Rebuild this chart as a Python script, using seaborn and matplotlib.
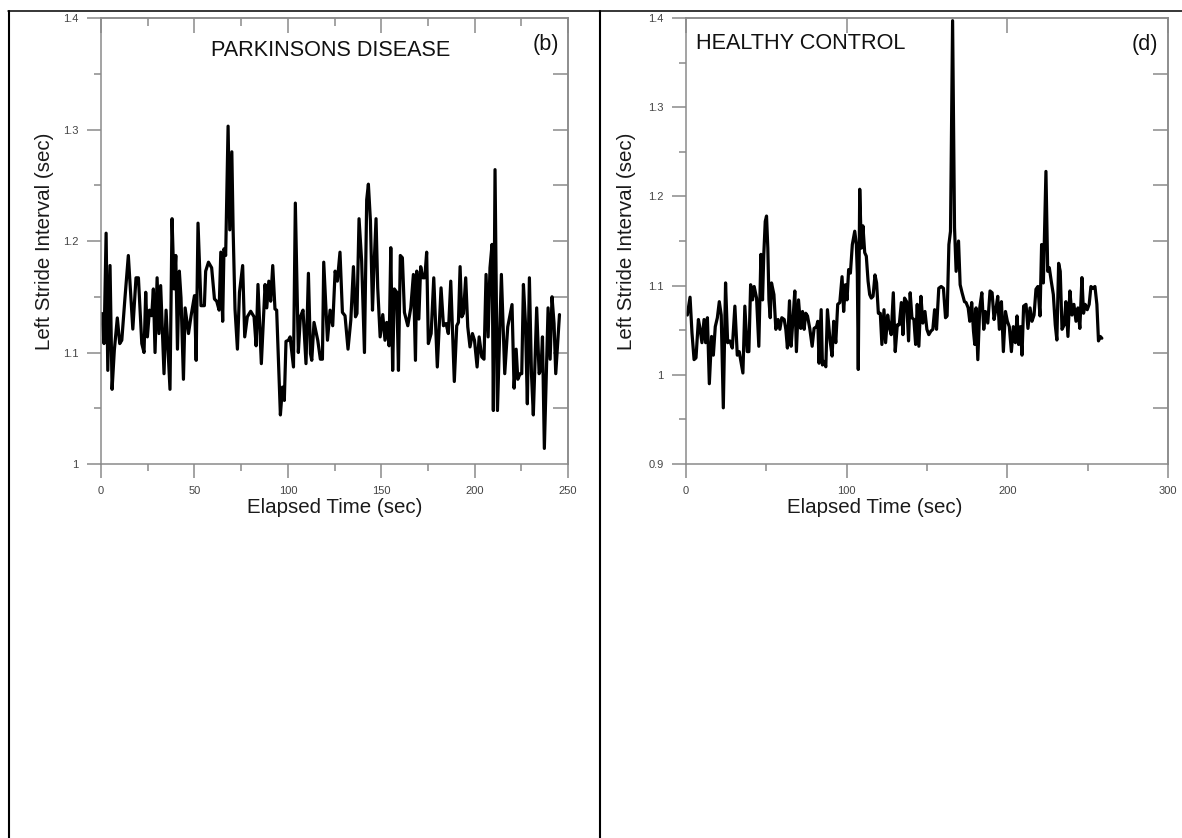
import pandas as pd
import matplotlib.pyplot as plt
import seaborn as sns

from matplotlib.lines import Line2D
from matplotlib.ticker import MultipleLocator, FixedLocator, FuncFormatter

# Parkinsons disease subject, left stride interval
pd_time = [
    0.4, 1.6, 2.7, 3.6, 4.8, 5.9, 7.1, 8.7, 10.0, 11.1,
    12.8, 14.6, 17.0, 18.7, 20.0, 21.8, 23.0, 23.9, 24.8, 25.9,
    27.1, 28.0, 28.9, 30.0, 31.0, 31.9, 33.7, 34.8, 36.9, 38.0,
    39.1, 40.0, 40.9, 41.9, 42.8, 44.1, 45.0, 46.8, 48.2, 50.0,
    50.9, 51.9, 53.5, 55.3, 56.0, 57.5, 59.2, 60.7, 61.9, 63.2,
    64.1, 65.1, 65.8, 66.7, 68.0, 68.9, 70.0, 70.7, 71.7, 73.0,
    74.1, 75.8, 76.9, 78.3, 80.1, 81.9, 83.0, 84.0, 85.8, 87.8,
    88.7, 89.8, 90.8, 91.9, 93.1, 94.0, 96.0, 97.1, 98.1, 99.0,
    100.3, 101.2, 103.0, 104.0, 105.6, 106.7, 108.1, 109.7, 111.0, 112.1,
    112.8, 114.0, 116.0, 117.4, 118.5, 119.2, 121.2,
    122.6, 124.0, 125.3, 126.5, 127.9, 129.2, 130.6, 132.2, 133.7, 135.1,
    136.2, 137.0, 138.1, 139.5, 141.0, 142.2, 143.1, 144.2, 145.3, 146.1,
    147.2, 148.1, 149.4, 150.8, 152.0, 152.9, 154.2, 155.1, 156.1, 157.0,
    158.3, 159.2, 160.2, 161.3, 162.4, 164.2, 165.8, 167.2, 168.3, 169.0,
    170.1, 171.1, 172.2, 173.3, 174.3, 175.2, 176.7, 178.1, 180.0, 182.0,
    183.3, 184.7, 185.9, 187.2, 189.1, 190.4, 191.3, 192.2, 193.1, 194.0,
    195.2, 196.3, 197.5, 198.8, 199.9, 201.3, 202.4, 203.8, 205.0, 206.1,
    207.2, 208.2, 209.3, 210.0, 210.9, 212.2, 214.3, 216.1, 217.7, 220.0,
    221.1, 222.2, 223.1, 224.3, 225.2, 226.1, 227.2, 228.2, 229.3, 230.4,
    231.4, 233.2, 234.5, 235.5, 236.3, 237.3, 239.3, 240.4, 241.4, 242.5,
    243.4, 245.4,
]
pd_stride = [
    1.135, 1.108, 1.207, 1.084, 1.178, 1.067, 1.102, 1.131, 1.108, 1.111,
    1.149, 1.187, 1.121, 1.167, 1.167, 1.108, 1.100, 1.154, 1.114, 1.138,
    1.133, 1.157, 1.100, 1.167, 1.117, 1.160, 1.081, 1.138, 1.067, 1.220,
    1.157, 1.187, 1.103, 1.173, 1.149, 1.076, 1.140, 1.117, 1.133, 1.151,
    1.093, 1.216, 1.142, 1.142, 1.173, 1.181, 1.176, 1.148, 1.146, 1.138,
    1.190, 1.128, 1.193, 1.187, 1.303, 1.210, 1.280, 1.210, 1.139, 1.103,
    1.154, 1.178, 1.114, 1.132, 1.137, 1.132, 1.106, 1.161, 1.090, 1.161,
    1.140, 1.164, 1.146, 1.178, 1.139, 1.138, 1.044, 1.069, 1.057, 1.110,
    1.111, 1.114, 1.087, 1.234, 1.100, 1.132, 1.138, 1.090, 1.171, 1.099,
    1.093, 1.127, 1.111, 1.094, 1.094, 1.181, 1.111,
    1.138, 1.124, 1.173, 1.164, 1.190, 1.136, 1.133, 1.103, 1.129, 1.177,
    1.132, 1.135, 1.220, 1.182, 1.100, 1.237, 1.251, 1.218, 1.138, 1.176,
    1.220, 1.158, 1.114, 1.134, 1.111, 1.127, 1.106, 1.194, 1.084, 1.157,
    1.154, 1.084, 1.187, 1.185, 1.136, 1.124, 1.140, 1.170, 1.093, 1.173,
    1.130, 1.177, 1.167, 1.167, 1.190, 1.108, 1.117, 1.167, 1.087, 1.158,
    1.124, 1.126, 1.117, 1.164, 1.074, 1.124, 1.127, 1.177, 1.132, 1.135,
    1.167, 1.123, 1.105, 1.117, 1.111, 1.087, 1.114, 1.096, 1.094, 1.170,
    1.114, 1.176, 1.197, 1.048, 1.264, 1.048, 1.170, 1.081, 1.123, 1.143,
    1.068, 1.103, 1.076, 1.081, 1.081, 1.161, 1.126, 1.054, 1.167, 1.081,
    1.044, 1.140, 1.081, 1.085, 1.114, 1.014, 1.140, 1.094, 1.150, 1.126,
    1.081, 1.134,
]

# healthy control subject
hc_time = [
    0.8, 2.5, 3.7, 5.0, 6.2, 7.7, 8.7, 9.9, 11.2, 12.2,
    13.3, 14.5, 15.9, 17.0, 18.2, 19.5, 20.7, 21.9, 23.2, 24.6,
    25.9, 27.3, 28.8, 30.4, 31.9, 33.1, 35.4, 36.6, 38.1, 39.1,
    40.2, 41.4, 42.4, 43.9, 45.3, 46.6, 47.6, 48.4, 49.3, 50.1,
    50.9, 51.6, 52.4, 53.2, 54.7, 55.9, 57.3, 58.4, 59.6, 61.1,
    62.1, 63.1, 64.4, 65.4, 66.7, 67.7, 68.7, 70.0, 71.4, 72.5,
    73.5, 74.5, 75.6, 77.0, 78.5, 79.7, 81.2, 82.0, 82.8, 84.1,
    84.9, 85.9, 87.0, 88.0, 89.6, 90.9, 91.9, 93.2, 94.4, 95.7,
    97.1, 98.1, 99.2, 100.2, 101.2, 102.3, 103.5, 105.0, 106.0, 106.6,
    107.2, 108.1, 109.1, 110.1, 111.2, 112.2, 113.3, 114.3, 115.3, 116.4,
    117.6, 118.6, 119.7, 120.9, 121.9, 123.2, 124.2, 125.5, 126.7, 127.7,
    129.0, 130.2, 131.5, 132.7, 134.0, 135.0, 136.0, 137.3, 138.5, 139.5,
    140.6, 141.8, 142.9, 143.9, 144.9, 146.2, 147.4, 148.7, 149.9, 151.1,
    152.4, 153.6, 154.7, 155.9, 157.3, 158.8, 160.2, 161.5, 162.5, 163.6,
    164.6, 165.9, 167.1, 168.1, 169.6, 170.6, 171.8, 173.3, 174.3,
    175.6, 176.6, 177.8, 178.9, 179.7, 180.5, 181.6, 182.8, 184.1, 185.3,
    186.3, 187.8, 189.2, 190.5, 191.7, 193.0, 194.0, 195.0, 196.3, 197.5,
    198.8, 200.0, 201.2, 202.5, 203.7, 205.0, 206.0, 207.0, 208.1, 209.1,
    210.1, 211.6, 212.8, 214.1, 215.3, 216.6, 217.8, 219.0, 220.3, 221.3,
    222.4, 223.2, 224.0, 225.1, 226.1, 227.3, 228.6, 229.8, 230.8, 231.9,
    232.9, 234.0, 235.4, 236.4, 237.7, 238.9, 240.2, 241.4, 242.7, 243.9,
    245.1, 246.4, 247.4, 248.4, 249.7, 250.9, 252.0, 253.2, 254.5, 255.7,
    256.7, 257.8, 258.8,
]
hc_stride = [
    1.067, 1.087, 1.047, 1.017, 1.019, 1.062, 1.052, 1.036, 1.062, 1.036,
    1.064, 0.990, 1.043, 1.022, 1.054, 1.064, 1.082, 1.067, 0.963, 1.103,
    1.036, 1.038, 1.030, 1.077, 1.022, 1.026, 1.002, 1.077, 1.026, 1.026,
    1.101, 1.084, 1.099, 1.086, 1.032, 1.135, 1.084, 1.135, 1.172, 1.178,
    1.142, 1.084, 1.064, 1.103, 1.090, 1.051, 1.062, 1.051, 1.064, 1.062,
    1.051, 1.030, 1.083, 1.032, 1.066, 1.094, 1.026, 1.084, 1.052, 1.071,
    1.051, 1.069, 1.066, 1.052, 1.032, 1.052, 1.054, 1.060, 1.013, 1.073,
    1.011, 1.015, 1.009, 1.073, 1.039, 1.021, 1.060, 1.036, 1.079, 1.081,
    1.110, 1.071, 1.101, 1.084, 1.118, 1.114, 1.146, 1.161, 1.146, 1.114,
    1.006, 1.208, 1.142, 1.167, 1.137, 1.133, 1.105, 1.090, 1.086, 1.088,
    1.112, 1.103, 1.069, 1.069, 1.034, 1.073, 1.036, 1.067, 1.052, 1.045,
    1.092, 1.026, 1.056, 1.056, 1.081, 1.045, 1.086, 1.082, 1.038, 1.092,
    1.064, 1.062, 1.034, 1.079, 1.032, 1.088, 1.058, 1.071, 1.051, 1.045,
    1.049, 1.051, 1.073, 1.051, 1.097, 1.099, 1.097, 1.064, 1.066, 1.146,
    1.161, 1.397, 1.165, 1.116, 1.150, 1.101, 1.092, 1.082, 1.081,
    1.075, 1.060, 1.081, 1.049, 1.034, 1.075, 1.017, 1.075, 1.092, 1.051,
    1.071, 1.058, 1.094, 1.092, 1.062, 1.075, 1.088, 1.051, 1.082, 1.026,
    1.071, 1.060, 1.054, 1.026, 1.054, 1.036, 1.066, 1.034, 1.054, 1.022,
    1.077, 1.079, 1.052, 1.075, 1.060, 1.067, 1.096, 1.099, 1.066, 1.146,
    1.103, 1.168, 1.228, 1.116, 1.120, 1.105, 1.090, 1.056, 1.039, 1.125,
    1.116, 1.051, 1.056, 1.082, 1.043, 1.094, 1.067, 1.079, 1.060, 1.075,
    1.052, 1.109, 1.069, 1.079, 1.073, 1.079, 1.099, 1.097, 1.099, 1.079,
    1.038, 1.043, 1.041,
]

df_pd = pd.DataFrame({"time": pd_time, "stride": pd_stride})
df_hc = pd.DataFrame({"time": hc_time, "stride": hc_stride})

sns.set_theme(style="white")
plt.rcParams['font.family'] = ['Liberation Sans', 'DejaVu Sans']

AX_GRAY = '#8a8a8a'
LBL_GRAY = '#444444'

fig = plt.figure(figsize=(11.82, 8.38), dpi=100)

ax1 = fig.add_axes([0.0855, 0.4463, 0.3951, 0.5322])
ax2 = fig.add_axes([0.5804, 0.4463, 0.4078, 0.5322])

sns.lineplot(data=df_pd, x="time", y="stride", ax=ax1, color='black',
             linewidth=2.3, sort=False, estimator=None)
sns.lineplot(data=df_hc, x="time", y="stride", ax=ax2, color='black',
             linewidth=2.3, sort=False, estimator=None)

fmt = FuncFormatter(lambda v, p: f"{v:g}")


def style_axes(ax, xmax, xmaj, xmin, ymin, top_minor, right_ticks):
    ax.set_xlim(0, xmax)
    ax.set_ylim(ymin, 1.4)
    ax.xaxis.set_major_locator(MultipleLocator(xmaj))
    ax.xaxis.set_minor_locator(MultipleLocator(xmin))
    ax.yaxis.set_major_locator(MultipleLocator(0.1))
    ax.yaxis.set_minor_locator(MultipleLocator(0.05))
    ax.xaxis.set_major_formatter(fmt)
    ax.yaxis.set_major_formatter(fmt)
    for s in ax.spines.values():
        s.set_color(AX_GRAY)
        s.set_linewidth(1.1)
    ax.tick_params(which='major', direction='out', length=10, width=1.1,
                   color=AX_GRAY, labelsize=8, labelcolor=LBL_GRAY, pad=6,
                   top=False, right=False, bottom=True, left=True)
    ax.tick_params(which='minor', direction='out', length=5, width=1.1,
                   color=AX_GRAY, top=False, right=False, bottom=True, left=True)

    # top and right ticks point inward
    top = ax.secondary_xaxis('top')
    top.xaxis.set_major_locator(MultipleLocator(xmaj))
    if top_minor:
        top.xaxis.set_minor_locator(MultipleLocator(xmin))
    top.tick_params(which='major', direction='in', length=11, width=1.1,
                    color=AX_GRAY, labeltop=False)
    top.tick_params(which='minor', direction='in', length=6, width=1.1,
                    color=AX_GRAY)
    top.spines['top'].set_color(AX_GRAY)
    top.spines['top'].set_linewidth(1.1)

    right = ax.secondary_yaxis('right')
    right.yaxis.set_major_locator(FixedLocator(right_ticks))
    right.tick_params(which='major', direction='in', length=11, width=1.1,
                      color=AX_GRAY, labelright=False)
    right.spines['right'].set_color(AX_GRAY)
    right.spines['right'].set_linewidth(1.1)

    ax.set_xlabel("Elapsed Time (sec)", fontsize=14.8, color='#1a1a1a')
    ax.set_ylabel("Left Stride Interval (sec)", fontsize=14.8, color='#1a1a1a')


style_axes(ax1, 250, 50, 25, 1.0, True,
           [1.05, 1.1, 1.15, 1.2, 1.25, 1.3, 1.35])
style_axes(ax2, 300, 100, 50, 0.9, False,
           [0.9 + k * 0.0625 for k in range(1, 8)])

ax1.xaxis.set_label_coords(0.5, -0.077)
ax2.xaxis.set_label_coords(0.392, -0.077)
ax1.yaxis.set_label_coords(-0.101, 0.5)
ax2.yaxis.set_label_coords(-0.104, 0.5)

ax1.text(0.2355, 0.928, "PARKINSONS DISEASE", transform=ax1.transAxes,
         fontsize=15.6, ha='left', va='center', color='#111111')
ax1.text(0.981, 0.94, "(b)", transform=ax1.transAxes,
         fontsize=15.6, ha='right', va='center', color='#111111')
ax2.text(0.021, 0.943, "HEALTHY CONTROL", transform=ax2.transAxes,
         fontsize=15.6, ha='left', va='center', color='#111111')
ax2.text(0.979, 0.94, "(d)", transform=ax2.transAxes,
         fontsize=15.6, ha='right', va='center', color='#111111')

# table borders around the panels
top_y = 1 - 10.7 / 838
fig.add_artist(Line2D([8 / 1182, 1.0], [top_y, top_y], transform=fig.transFigure,
                      color='black', linewidth=1.1))
for xpix in (9, 600):
    fig.add_artist(Line2D([xpix / 1182, xpix / 1182], [0, top_y],
                          transform=fig.transFigure, color='black', linewidth=1.5))

plt.savefig("out.png", dpi=100)
